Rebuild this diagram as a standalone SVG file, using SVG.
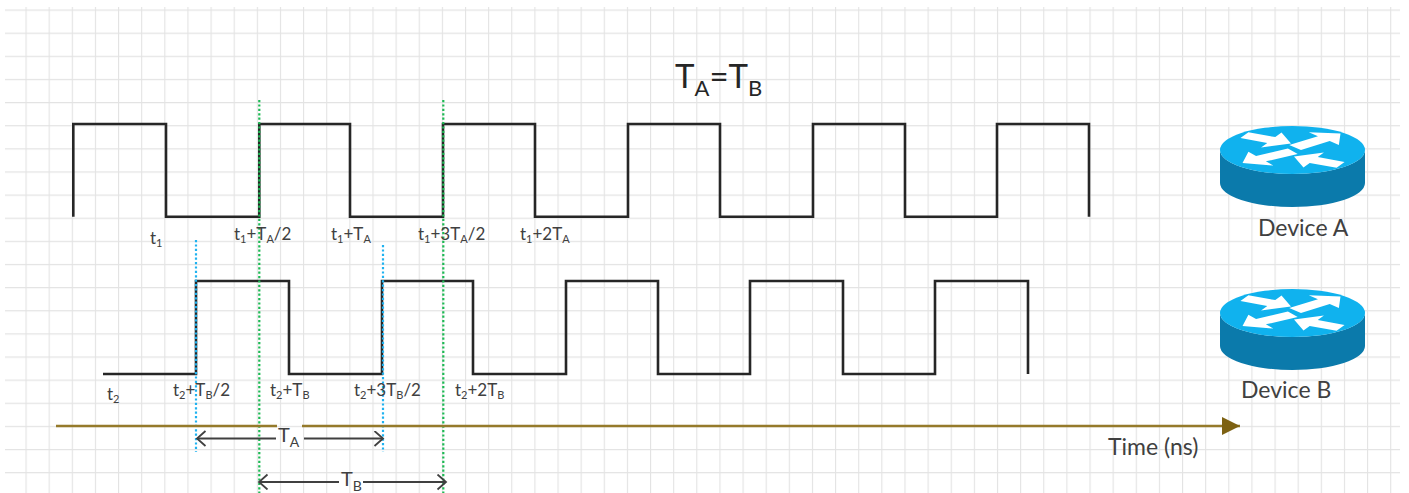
<svg xmlns="http://www.w3.org/2000/svg" xmlns:xlink="http://www.w3.org/1999/xlink" width="1409" height="493" viewBox="0 0 1409 493">
<style>
.sig{fill:none;stroke:#262626;stroke-width:2.6;stroke-linejoin:miter;stroke-linecap:butt}
.green{stroke:#1db954;stroke-width:2.2;stroke-dasharray:2.2 2.2;fill:none}
.blue{stroke:#1fb2f0;stroke-width:2.2;stroke-dasharray:2.2 2.2;fill:none}
.dim{stroke:#404040;stroke-width:1.8;fill:none}
.time{stroke:#957a2b;stroke-width:2.4;fill:none}
.lbl{font-family:Lato,"Liberation Sans",sans-serif;font-size:17px;fill:#404040}
.sub{font-size:11px}
.dev{font-family:Lato,"Liberation Sans",sans-serif;font-size:23px;fill:#404040}
.title{font-family:Lato,"Liberation Sans",sans-serif;font-size:33px;fill:#262626}
.dl{font-family:Lato,"Liberation Sans",sans-serif;font-size:20px;fill:#404040}
.rtop{fill:#10b2ee}
.rside{fill:#0b7aab}
.arw{fill:#ffffff}
</style>
<defs>
<pattern id="grid" x="25.5" y="9.5" width="23.13" height="23.13" patternUnits="userSpaceOnUse">
<path d="M0,0 H23.13 M0,0 V23.13" stroke="#e3e3e3" stroke-width="2.2" fill="none"/>
</pattern>
<marker id="chev" markerWidth="12" markerHeight="18" refX="10" refY="8" orient="auto" markerUnits="userSpaceOnUse">
<path d="M1.5,0.5 L10,8 L1.5,15.5" fill="none" stroke="#404040" stroke-width="1.8"/>
</marker>
<marker id="tri" markerWidth="20" markerHeight="20" refX="18" refY="9" orient="auto" markerUnits="userSpaceOnUse">
<path d="M0,0 L18,9 L0,18 Z" fill="#7d6112"/>
</marker>
<path id="arS" d="M0,0 L-22,-23 L-22,-9 L-52,-9 L-52,9 L-22,9 L-22,23 Z"/>
<path id="arL" d="M0,0 L-22,-23 L-22,-9 L-60,-9 L-60,9 L-22,9 L-22,23 Z"/>
<g id="router">
<path class="rside" d="M1220,150 L1220,183 A72.5,24 0 0 0 1365,183 L1365,150 A72.5,24 0 0 1 1220,150 Z"/>
<ellipse class="rtop" cx="1292.5" cy="150" rx="72.5" ry="24"/>
<g transform="translate(1292.5,150) scale(1,0.36)" class="arw">
<use xlink:href="#arS" transform="translate(-1.5,-18) rotate(26.4)"/>
<use xlink:href="#arL" transform="translate(48,-46) rotate(-40.8)"/>
<use xlink:href="#arL" transform="translate(-50,36) rotate(147)"/>
<use xlink:href="#arS" transform="translate(1.5,18) rotate(206.4)"/>
</g>
</g>
</defs>

<rect x="0" y="0" width="1409" height="493" fill="#ffffff"/>
<rect x="5" y="7" width="1395" height="486" fill="url(#grid)"/>

<g id="title">
<text class="title" x="675" y="88">T<tspan font-size="22" dy="8">A</tspan><tspan dy="-8">=T</tspan><tspan font-size="22" dy="8">B</tspan></text>
</g>

<g id="signal-a">
<path class="sig" d="M73.3,216.7 V124 H166 V216.7 H259.3 V124 H350 V216.7 H443 V124 H535 V216.7 H628 V124 H720 V216.7 H813 V124 H905 V216.7 H997 V124 H1089 V216.7"/>
</g>
<g id="signal-b">
<path class="sig" d="M103,374 H196 V281 H289 V374 H382 V281 H473 V374 H566 V281 H658 V374 H750 V281 H843 V374 H935 V281 H1028 V374"/>
</g>

<g id="connectors">
<line class="green" x1="259.3" y1="100" x2="259.3" y2="493"/>
<line class="green" x1="443.3" y1="100" x2="443.3" y2="493"/>
<line class="blue" x1="196" y1="240" x2="196" y2="452"/>
<line class="blue" x1="383" y1="245" x2="383" y2="452"/>
<line class="time" x1="56" y1="426" x2="277" y2="426"/>
<line class="time" x1="302" y1="426" x2="1240" y2="426" marker-end="url(#tri)"/>
<line class="dim" x1="276" y1="438.5" x2="197" y2="438.5" marker-end="url(#chev)"/>
<line class="dim" x1="304" y1="438.5" x2="383" y2="438.5" marker-end="url(#chev)"/>
<line class="dim" x1="339" y1="482" x2="259" y2="482" marker-end="url(#chev)"/>
<line class="dim" x1="363" y1="482" x2="446" y2="482" marker-end="url(#chev)"/>
</g>

<g id="labels-a">
<text class="lbl" x="150" y="244">t<tspan class="sub" dy="3">1</tspan></text>
<text class="lbl" x="234" y="240">t<tspan class="sub" dy="3">1</tspan><tspan dy="-3">+T</tspan><tspan class="sub" dy="3">A</tspan><tspan dy="-3">/2</tspan></text>
<text class="lbl" x="331" y="240">t<tspan class="sub" dy="3">1</tspan><tspan dy="-3">+T</tspan><tspan class="sub" dy="3">A</tspan></text>
<text class="lbl" x="418" y="240">t<tspan class="sub" dy="3">1</tspan><tspan dy="-3">+3T</tspan><tspan class="sub" dy="3">A</tspan><tspan dy="-3">/2</tspan></text>
<text class="lbl" x="520" y="240">t<tspan class="sub" dy="3">1</tspan><tspan dy="-3">+2T</tspan><tspan class="sub" dy="3">A</tspan></text>
</g>
<g id="labels-b">
<text class="lbl" x="107" y="400">t<tspan class="sub" dy="3">2</tspan></text>
<text class="lbl" x="173" y="396">t<tspan class="sub" dy="3">2</tspan><tspan dy="-3">+T</tspan><tspan class="sub" dy="3">B</tspan><tspan dy="-3">/2</tspan></text>
<text class="lbl" x="270" y="396">t<tspan class="sub" dy="3">2</tspan><tspan dy="-3">+T</tspan><tspan class="sub" dy="3">B</tspan></text>
<text class="lbl" x="354" y="396">t<tspan class="sub" dy="3">2</tspan><tspan dy="-3">+3T</tspan><tspan class="sub" dy="3">B</tspan><tspan dy="-3">/2</tspan></text>
<text class="lbl" x="455" y="396">t<tspan class="sub" dy="3">2</tspan><tspan dy="-3">+2T</tspan><tspan class="sub" dy="3">B</tspan></text>
</g>

<g id="dim-ta">
<text class="dl" x="278" y="442">T<tspan font-size="14" dy="5">A</tspan></text>
</g>
<g id="dim-tb">
<text class="dl" x="341" y="486">T<tspan font-size="14" dy="5">B</tspan></text>
</g>

<g id="device-a">
<use xlink:href="#router"/>
<text class="dev" x="1258" y="236">Device A</text>
</g>
<g id="device-b">
<use xlink:href="#router" transform="translate(0,163)"/>
<text class="dev" x="1241" y="398">Device B</text>
</g>

<g id="time-label">
<text class="dev" x="1108" y="455">Time (ns)</text>
</g>
</svg>
